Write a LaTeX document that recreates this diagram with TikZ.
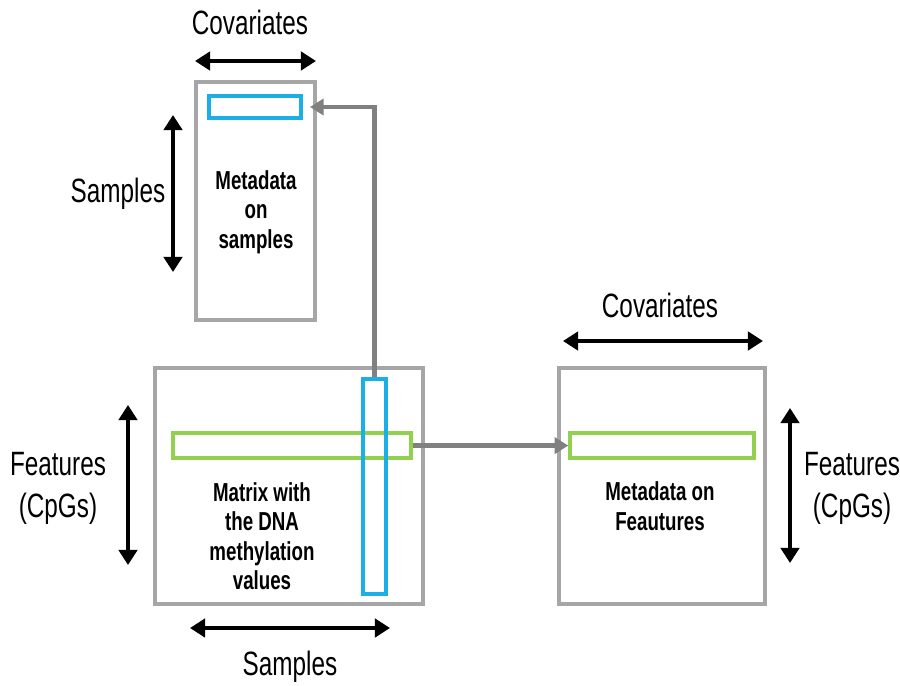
\documentclass[tikz,border=0pt]{standalone}
\usepackage{fontspec}
\setmainfont{Liberation Sans}[FakeStretch=0.72]
\usetikzlibrary{arrows.meta, positioning}

\definecolor{boxgray}{HTML}{A6A6A6}
\definecolor{linkgray}{HTML}{808080}
\definecolor{barblue}{HTML}{1AAFE6}
\definecolor{bargreen}{HTML}{92D050}

\tikzset{
  frame/.style={draw=boxgray, line width=2.5pt, inner sep=0pt},
  bluebar/.style={draw=barblue, line width=2.5pt, inner sep=0pt},
  greenbar/.style={draw=bargreen, line width=2.5pt, inner sep=0pt},
  dimarrow/.style={line width=3.2pt, {Triangle[length=0.38cm,width=0.46cm]}-{Triangle[length=0.38cm,width=0.46cm]}},
  link/.style={draw=linkgray, line width=3pt, -{Triangle[length=0.34cm,width=0.4cm]}},
  lbl/.style={font=\fontsize{24}{30}\selectfont, align=center},
  inlbl/.style={font=\fontsize{18.5}{21}\selectfont\bfseries, align=center}
}

\begin{document}
\begin{tikzpicture}
\useasboundingbox (0,0) rectangle (22.5,-17.125);

% metadata on samples
\node[frame, minimum width=2.975cm, minimum height=5.95cm] (sbox) at (6.39,-5.025) {};
\node[bluebar, minimum width=2.3cm, minimum height=0.55cm] (sbar) at (6.375,-2.675) {};
\node[inlbl] (stext) at (6.4,-5.3) {Metadata\\on\\samples};

% methylation matrix
\node[frame, minimum width=6.7cm, minimum height=5.9cm] (mbox) at (7.225,-12.15) {};
\node[greenbar, minimum width=5.95cm, minimum height=0.625cm] (mrow) at (7.3,-11.14) {};
\node[bluebar, minimum width=0.575cm, minimum height=5.375cm] (mcol) at (9.36,-12.16) {};
\node[inlbl] (mtext) at (6.55,-13.4) {Matrix with\\the DNA\\methylation\\values};

% metadata on features
\node[frame, minimum width=5.15cm, minimum height=5.9cm] (fbox) at (16.55,-12.15) {};
\node[greenbar, minimum width=4.6cm, minimum height=0.625cm] (frow) at (16.55,-11.14) {};
\node[inlbl] (ftext) at (16.5,-12.65) {Metadata on\\Feautures};

% links
\draw[link, shorten >=0.18cm] (mcol.north) |- (sbar.east);
\draw[link] (mrow.east) -- (frow.west);

% dimensions
\coordinate (c1a) at (4.875,-1.525);  \coordinate (c1b) at (7.9,-1.525);
\coordinate (s1a) at (4.325,-2.875);  \coordinate (s1b) at (4.325,-6.8);
\coordinate (f1a) at (3.2,-10.125);   \coordinate (f1b) at (3.2,-14.125);
\coordinate (s2a) at (4.75,-15.7);    \coordinate (s2b) at (9.75,-15.7);
\coordinate (c2a) at (14.075,-8.525); \coordinate (c2b) at (19.075,-8.525);
\coordinate (f2a) at (19.75,-10.2);   \coordinate (f2b) at (19.75,-14.075);
\draw[dimarrow] (c1a) -- (c1b);
\draw[dimarrow] (s1a) -- (s1b);
\draw[dimarrow] (f1a) -- (f1b);
\draw[dimarrow] (s2a) -- (s2b);
\draw[dimarrow] (c2a) -- (c2b);
\draw[dimarrow] (f2a) -- (f2b);

\node[lbl] (cov1) at (6.25,-0.55) {Covariates};
\node[lbl] (smp1) at (2.95,-4.85) {Samples};
\node[lbl] (fea1) at (1.45,-12.2) {Features\\(CpGs)};
\node[lbl] (smp2) at (7.25,-16.675) {Samples};
\node[lbl] (cov2) at (16.5,-7.625) {Covariates};
\node[lbl] (fea2) at (21.3,-12.2) {Features\\(CpGs)};
\end{tikzpicture}
\end{document}
